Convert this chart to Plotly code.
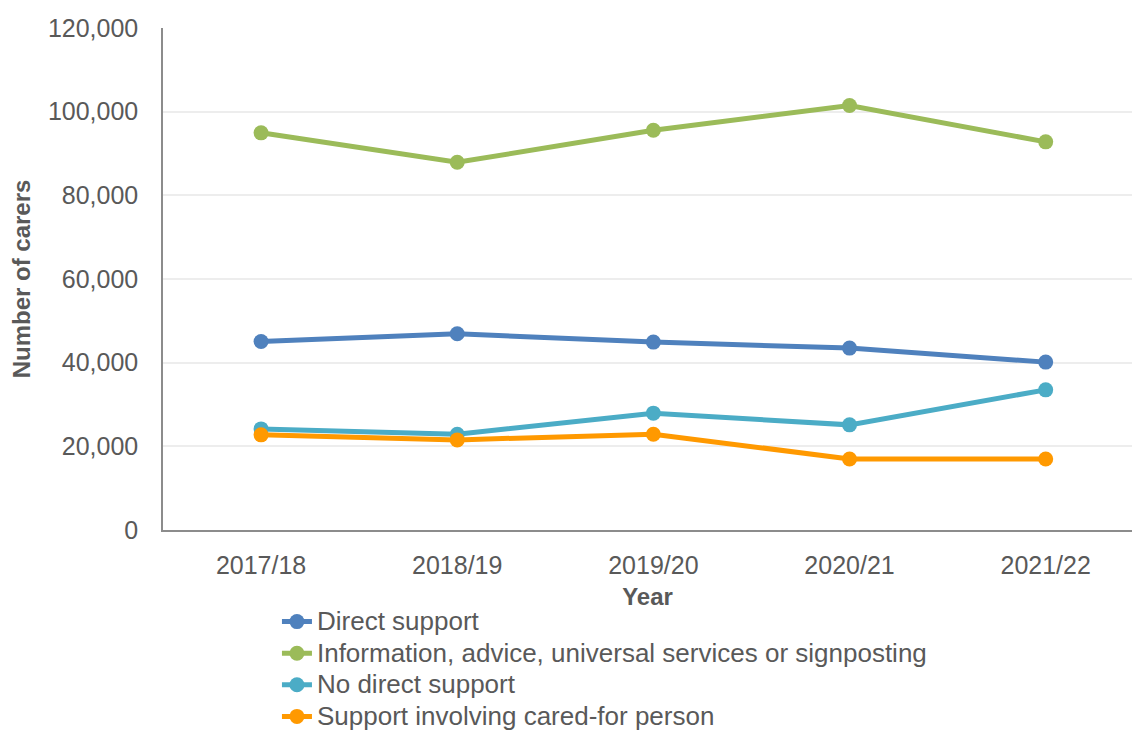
import plotly.graph_objects as go

# Financial years on the horizontal axis
years = ["2017/18", "2018/19", "2019/20", "2020/21", "2021/22"]

# Number of carers by type of support received
direct_support = [45060, 46910, 44920, 43480, 40130]
info_advice = [94940, 87900, 95560, 101470, 92780]
no_direct_support = [24170, 22900, 27930, 25130, 33500]
cared_for_person = [22740, 21540, 22900, 16990, 16990]

y_ticks = [0, 20000, 40000, 60000, 80000, 100000, 120000]

series = [
    ("Direct support", direct_support, "#4F81BD"),
    ("Information, advice, universal services or signposting", info_advice, "#9BBB59"),
    ("No direct support", no_direct_support, "#4BACC6"),
    ("Support involving cared-for person", cared_for_person, "#FF9900"),
]

FONT = "Liberation Sans, Arial, sans-serif"
TEXT = "#595959"

fig = go.Figure()
for name, values, color in series:
    fig.add_trace(go.Scatter(
        x=years, y=values, mode="lines+markers",
        # legend rows are spaced for 22px text, label drawn a little larger
        name=f"<span style='font-size:26px'>{name}</span>",
        line=dict(color=color, width=5),
        marker=dict(color=color, size=15, symbol="circle"),
    ))

fig.update_layout(
    width=1132, height=731,
    margin=dict(l=163, r=0, t=28, b=201, autoexpand=False),
    paper_bgcolor="white", plot_bgcolor="white",
    font=dict(family=FONT, color=TEXT, size=25),
    showlegend=True,
    legend=dict(
        orientation="v",
        x=0.1176, xanchor="left", y=-0.141, yanchor="top",
        font=dict(size=22, color=TEXT), bgcolor="rgba(0,0,0,0)",
        tracegroupgap=0,
    ),
    xaxis=dict(
        type="category", range=[-0.5, 4.44],
        showgrid=False, showline=True, linecolor="#8C8C8C", linewidth=1.5,
        ticks="", tickfont=dict(size=25, color=TEXT), ticklabelstandoff=12,
        title=dict(text="<b>Year</b>", font=dict(size=24, color=TEXT), standoff=10),
        zeroline=False,
    ),
    yaxis=dict(
        range=[0, 120000], tickvals=y_ticks, tickformat=",d",
        showgrid=True, gridcolor="#EDEDED", gridwidth=1.5,
        showline=True, linecolor="#8C8C8C", linewidth=1.5,
        ticks="", tickfont=dict(size=25, color=TEXT), ticklabelstandoff=18,
        title=dict(text="<b>Number of carers</b>", font=dict(size=24, color=TEXT), standoff=10),
        zeroline=False,
    ),
)

fig.write_html("out.html")
